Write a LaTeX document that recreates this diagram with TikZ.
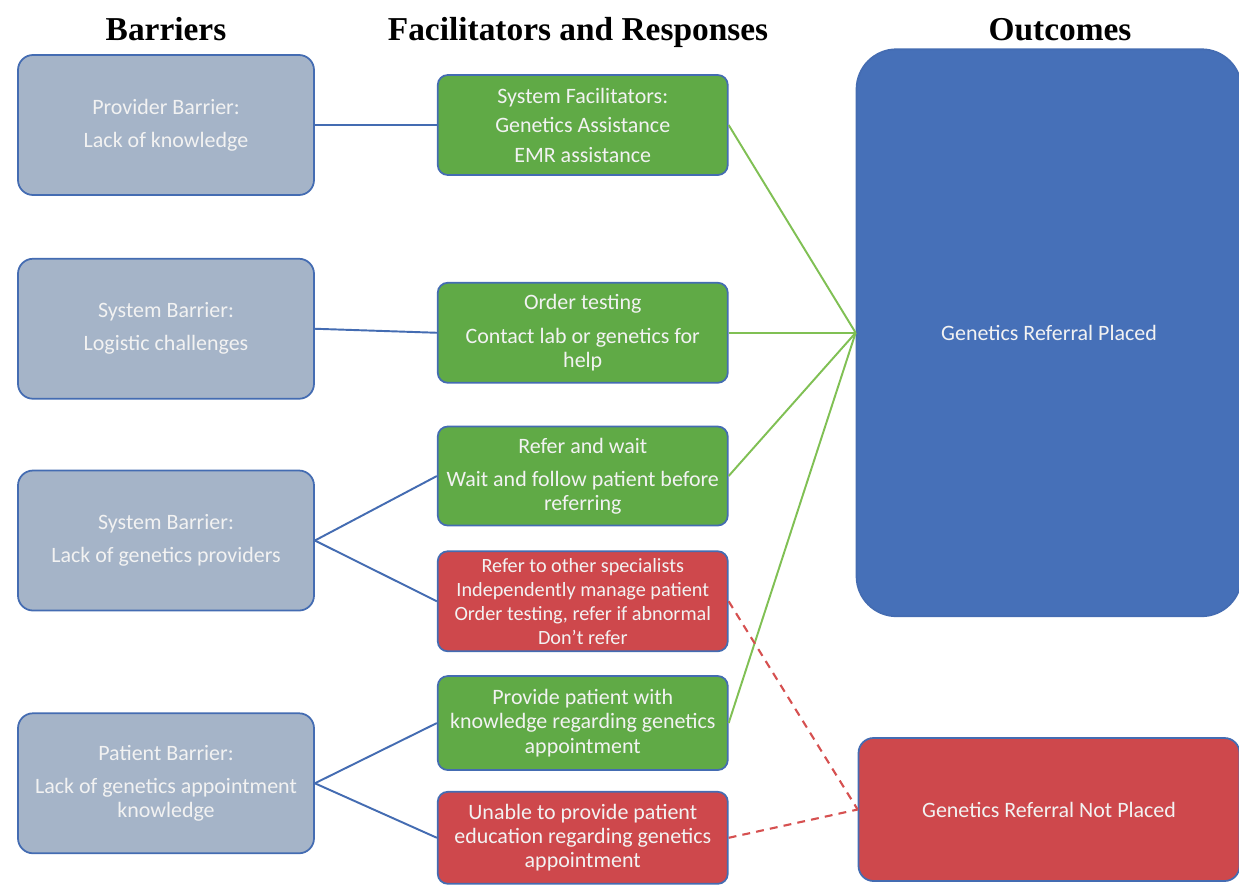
\documentclass[tikz,border=0pt]{standalone}
\usepackage{fontspec}
\setmainfont{Carlito}
\newfontfamily\headfont{Liberation Serif}
\usetikzlibrary{positioning}
\definecolor{barfill}{RGB}{165,180,200}
\definecolor{edgeblue}{RGB}{68,108,178}
\definecolor{facgreen}{RGB}{96,170,70}
\definecolor{resred}{RGB}{206,72,76}
\definecolor{outblue}{RGB}{70,112,184}
\definecolor{linkgreen}{RGB}{128,192,84}
\definecolor{linkred}{RGB}{214,80,80}
\definecolor{txtwhite}{RGB}{242,242,242}
\tikzstyle{boxtext} = [font=\fontsize{12.5}{13.8}\selectfont,text=txtwhite,align=center]
\tikzstyle{bar} = [rectangle,draw=edgeblue,fill=barfill,line width=1pt,rounded corners=0.3cm,boxtext,minimum width=5.92cm,minimum height=2.8cm]
\tikzstyle{fac} = [rectangle,draw=edgeblue,fill=facgreen,line width=1pt,rounded corners=0.2cm,boxtext,minimum width=5.8cm,inner sep=1pt]
\tikzstyle{res} = [fac,fill=resred]
\tikzstyle{outcome} = [rectangle,draw=edgeblue,fill=outblue,line width=1pt,boxtext,minimum width=7.7cm]
\tikzstyle{head} = [font=\headfont\bfseries\fontsize{19}{22}\selectfont,anchor=base]
\tikzstyle{blink} = [draw=edgeblue,line width=1.1pt]
\tikzstyle{glink} = [draw=linkgreen,line width=1.1pt]
\tikzstyle{rlink} = [draw=linkred,line width=1.2pt,dash pattern=on 4.5pt off 3.5pt]

\begin{document}
\begin{tikzpicture}
	\useasboundingbox[fill=white] (0,0) rectangle (24.78,-17.84);
	
	\node[head] (hbar) at (3.32,-0.8) {Barriers};
	\node[head] (hfac) at (11.56,-0.8) {Facilitators and Responses};
	\node[head] (hout) at (21.2,-0.8) {Outcomes};
	
	\node[bar] (provider) at (3.32,-2.5) {Provider Barrier:\\[5pt]Lack of knowledge};
	\node[bar,below=1.24cm of provider] (logistic) {System Barrier:\\[5pt]Logistic challenges};
	\node[bar,below=1.4cm of logistic] (providers) {System Barrier:\\[5pt]Lack of genetics providers};
	\node[bar,below=2.02cm of providers] (patient) {Patient Barrier:\\[5pt]Lack of genetics appointment\\knowledge};
	
	\node[fac,minimum height=2cm,right=2.44cm of provider] (sysfac) {System Facilitators:\\[3pt]Genetics Assistance\\[3pt]EMR assistance};
	\node[fac,minimum height=2cm,below=2.12cm of sysfac] (order) {Order testing\\[5pt]Contact lab or genetics for\\help};
	\node[fac,minimum height=1.98cm,below=0.84cm of order] (wait) {Refer and wait\\[5pt]Wait and follow patient before\\referring};
	\node[res,minimum height=2cm,below=0.48cm of wait,font=\fontsize{11.5}{13.6}\selectfont] (other) {Refer to other specialists\\Independently manage patient\\Order testing, refer if abnormal\\Don’t refer};
	\node[fac,minimum height=1.88cm,below=0.46cm of other] (inform) {Provide patient with\\knowledge regarding genetics\\appointment};
	\node[res,minimum height=1.84cm,below=0.4cm of inform] (noinform) {Unable to provide patient\\education regarding genetics\\appointment};
	
	\node[outcome,rounded corners=0.8cm,minimum height=11.34cm,right=2.54cm of order] (placed) {Genetics Referral Placed};
	\node[outcome,fill=resred,rounded corners=0.3cm,minimum width=7.62cm,minimum height=2.86cm,below=2.4cm of placed] (notplaced) {Genetics Referral Not Placed};
	
	\draw[blink] (provider.east) -- (sysfac.west);
	\draw[blink] (logistic.east) -- (order.west);
	\draw[blink] (providers.east) -- (wait.west);
	\draw[blink] (providers.east) -- (other.west);
	\draw[blink] (patient.east) -- (inform.west);
	\draw[blink] (patient.east) -- (noinform.west);
	
	\draw[glink] (sysfac.east) -- (placed.west);
	\draw[glink] (order.east) -- (placed.west);
	\draw[glink] (wait.east) -- (placed.west);
	\draw[glink] (inform.east) -- (placed.west);
	
	\draw[rlink] (other.east) -- (notplaced.west);
	\draw[rlink] (noinform.east) -- (notplaced.west);
\end{tikzpicture}
\end{document}
